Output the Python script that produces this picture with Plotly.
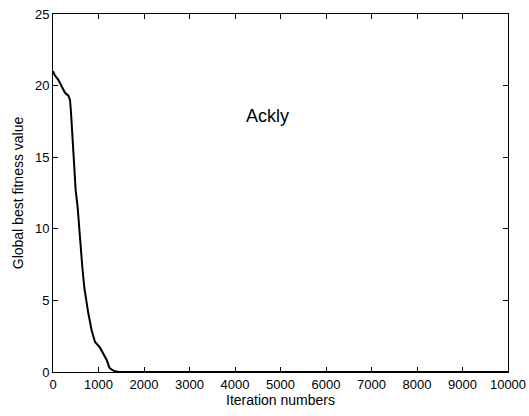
import plotly.graph_objects as go

iterations = [0, 44, 117, 190, 227, 264, 337, 374, 396, 425, 447, 469, 498, 542, 571, 608, 645, 688, 725, 776, 850, 923, 1033, 1106, 1180, 1231, 1253, 1300, 1363, 1450, 2000, 3000, 4000, 5000, 6000, 7000, 8000, 9000, 10000]
fitness = [21.0, 20.7, 20.4, 20.0, 19.7, 19.5, 19.3, 19.0, 18.1, 16.7, 15.5, 14.1, 12.7, 11.5, 10.1, 8.7, 7.3, 5.9, 5.0, 4.1, 2.9, 2.1, 1.7, 1.3, 0.84, 0.37, 0.26, 0.15, 0.05, 0.0, 0.0, 0.0, 0.0, 0.0, 0.0, 0.0, 0.0, 0.0, 0.0]

x_ticks = list(range(0, 10001, 1000))
y_ticks = [0, 5, 10, 15, 20, 25]

FONT = "Liberation Sans, Arial"

fig = go.Figure()
fig.add_trace(go.Scatter(x=iterations, y=fitness, mode="lines",
                         line=dict(color="black", width=2), showlegend=False))

fig.add_annotation(x=4725, y=17.9, text="Ackly", showarrow=False,
                   font=dict(family=FONT, size=18, color="black"))

axis_common = dict(showline=True, linecolor="black", linewidth=1, mirror="ticks",
                   ticks="inside", ticklen=5, tickcolor="black", showgrid=False,
                   zeroline=False, automargin=False,
                   tickfont=dict(family=FONT, size=13, color="black"))

fig.update_xaxes(range=[0, 10000], tickvals=x_ticks, ticktext=[str(v) for v in x_ticks],
                 title=dict(text="Iteration numbers", standoff=3,
                            font=dict(family=FONT, size=14, color="black")),
                 **axis_common)
fig.update_yaxes(range=[0, 25], tickvals=y_ticks, ticktext=[str(v) for v in y_ticks],
                 title=dict(text="Global best fitness value", standoff=8,
                            font=dict(family=FONT, size=14, color="black")),
                 **axis_common)

fig.update_layout(width=529, height=416, margin=dict(l=53, r=21, t=14, b=44),
                  plot_bgcolor="white", paper_bgcolor="white")

fig.write_html("out.html", config={"displayModeBar": False},
               post_script="document.body.style.margin='0';document.body.style.overflow='hidden';")
